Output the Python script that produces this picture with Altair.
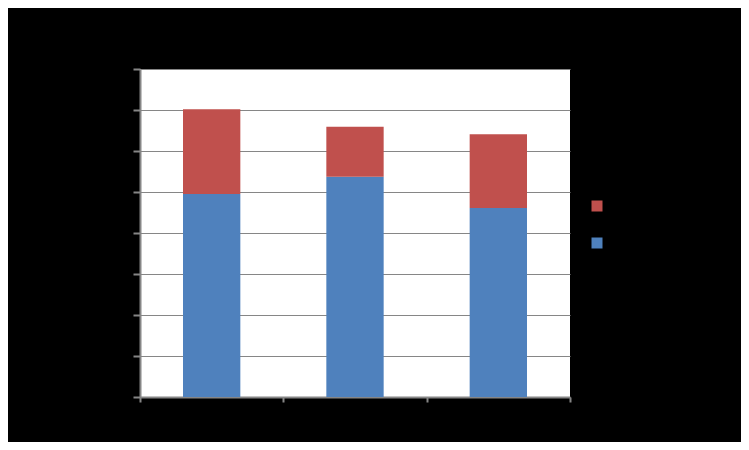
import altair as alt
import pandas as pd

categories = ["Category 1", "Category 2", "Category 3"]
series1 = [4.95, 5.37, 4.61]
series2 = [2.07, 1.22, 1.80]
series_names = ["Series1", "Series2"]
y_ticks = [0, 1, 2, 3, 4, 5, 6, 7, 8]

rows = []
for i, c in enumerate(categories):
    rows.append({"cat": c, "series": series_names[0], "value": series1[i], "ord": 0})
    rows.append({"cat": c, "series": series_names[1], "value": series2[i], "ord": 1})
df = pd.DataFrame(rows)

gray = "#868686"

chart = alt.Chart(df).mark_bar(width=alt.RelativeBandSize(0.4)).encode(
    x=alt.X("cat:N", sort=categories, title=None,
            scale=alt.Scale(paddingInner=0, paddingOuter=0),
            axis=alt.Axis(labelAngle=0, tickBand="extent", tickSize=5, tickColor=gray,
                          tickWidth=2, domainColor=gray, domainWidth=2,
                          labelColor="black", grid=False)),
    y=alt.Y("value:Q", stack="zero", title=None,
            scale=alt.Scale(domain=[0, 8], nice=False),
            axis=alt.Axis(values=y_ticks, tickSize=7, labelOverlap=False,
                          tickColor=gray, tickWidth=2, domainColor=gray, domainWidth=2,
                          gridColor=gray, gridWidth=1, labelColor="black")),
    color=alt.Color("series:N", title=None,
                    scale=alt.Scale(domain=["Series2", "Series1"], range=["#C0504D", "#4F81BD"]),
                    legend=alt.Legend(orient="none", legendX=451, legendY=131,
                                      symbolType="square", symbolSize=121,
                                      symbolStrokeWidth=0, labelColor="black",
                                      labelFontSize=12, rowPadding=25)),
    order=alt.Order("ord:Q", sort="ascending"),
).properties(
    width=430, height=328,
    autosize=alt.AutoSizeParams(type="none"),
    padding={"left": 132, "top": 61, "right": 171, "bottom": 45},
    background="black",
).configure_view(fill="white", stroke=None)

chart.save("out.html", embed_options={"renderer": "svg", "actions": False})
